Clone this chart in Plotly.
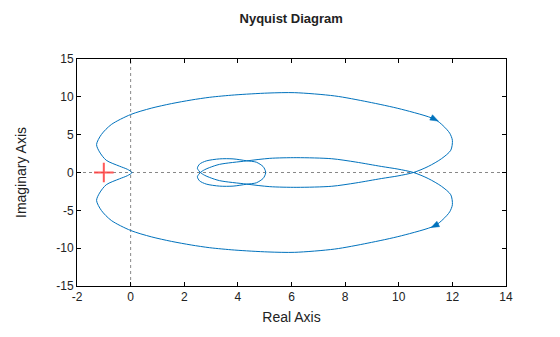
import math
import plotly.graph_objects as go

# Upper-half branch of the Nyquist curve:
# starts at the small loop tip on the real axis, ends at the origin cusp
re_upper = [5.04, 5.0, 4.94, 4.69, 4.32, 3.82, 3.32, 2.82, 2.57, 2.49, 2.55, 2.6,
            2.75, 2.95, 3.32, 4.32, 5.19, 6.2, 7.5, 8.4, 9.35, 9.97, 10.55,
            11.1, 11.6, 11.94, 12.0, 11.9, 11.65, 11.34, 10.1, 8.85, 7.61, 6.12,
            5.12, 3.88, 2.95, 2.26, 1.52, 0.77, 0.0, -0.72, -1.09, -1.27,
            -1.16, -0.91, -0.41, -0.12, 0.05]
im_upper = [0.0, 0.45, 0.79, 1.36, 1.55, 1.8, 1.8, 1.53, 1.1, 0.57, 0.2, 0.0,
            -0.35, -0.66, -1.08, -1.53, -1.87, -1.96, -1.82, -1.38, -0.8, -0.45, 0.0,
            0.8, 1.84, 2.94, 4.25, 5.2, 6.2, 7.04, 8.36, 9.33, 10.12, 10.55,
            10.5, 10.25, 9.94, 9.58, 9.1, 8.5, 7.66, 6.34, 5.02, 3.7,
            2.72, 1.62, 0.83, 0.42, 0.0]

# direction arrows on the curve: position and screen direction (degrees below +x)
arrow_re = [11.34, 11.34]
arrow_im = [7.04, -7.04]
arrow_dir = [27, 153]

crit_re = [-1]
crit_im = [0]

xticks = list(range(-2, 15, 2))
yticks = list(range(-15, 16, 5))

blue = "#0072BD"

# plot area geometry (pixels) used to size arrowheads
W, H = 560, 337
ML, MR, MT, MB = 77, 54, 59, 51
XR = [-2, 14]
YR = [-15, 15]
px_x = (W - ML - MR) / (XR[1] - XR[0])
px_y = (H - MT - MB) / (YR[1] - YR[0])

# closed curve: upper branch followed by its mirror image (conjugate branch)
re_full = list(re_upper) + list(reversed(re_upper))[1:]
im_full = list(im_upper) + [-v for v in reversed(im_upper)][1:]

fig = go.Figure()
fig.add_trace(go.Scatter(x=re_full, y=im_full, mode="lines",
                         line=dict(color=blue, width=1, shape="spline", smoothing=0.8),
                         hoverinfo="skip"))

# arrowheads as small filled triangles (sized in pixels, placed in data units)
L_fwd, L_back, half_w = 4.0, 4.0, 3.0
for xa, ya, d in zip(arrow_re, arrow_im, arrow_dir):
    r = math.radians(d)
    ux, uy = math.cos(r), math.sin(r)       # screen direction (y down)
    nx, ny = -uy, ux                        # perpendicular
    pts = [(L_fwd * ux, L_fwd * uy),
           (-L_back * ux + half_w * nx, -L_back * uy + half_w * ny),
           (-L_back * ux - half_w * nx, -L_back * uy - half_w * ny),
           (L_fwd * ux, L_fwd * uy)]
    tx = [xa + p[0] / px_x for p in pts]
    ty = [ya - p[1] / px_y for p in pts]
    fig.add_trace(go.Scatter(x=tx, y=ty, mode="lines", fill="toself",
                             fillcolor=blue, line=dict(color=blue, width=0.5),
                             hoverinfo="skip"))

fig.add_trace(go.Scatter(x=crit_re, y=crit_im, mode="markers",
                         marker=dict(symbol="cross-thin", size=14,
                                     line=dict(color="rgba(255,60,60,0.85)", width=2))))

axis_common = dict(showgrid=False, zeroline=False, showline=True, linecolor="black",
                   linewidth=1, mirror="ticks", ticks="inside", ticklen=4,
                   tickcolor="black", tickfont=dict(size=12, color="#222"))

fig.update_layout(
    width=W, height=H,
    margin=dict(l=ML, r=MR, t=MT, b=MB),
    paper_bgcolor="white", plot_bgcolor="white",
    font=dict(family="Liberation Sans, Arial, sans-serif", color="#222"),
    showlegend=False,
    title=dict(text="<b>Nyquist Diagram</b>", x=0.52, xanchor="center",
               y=0.945, yanchor="middle", font=dict(size=13, color="#222")),
    xaxis=dict(range=XR, tickvals=xticks, ticktext=[str(v) for v in xticks],
               **axis_common,
               title=dict(text="Real Axis", font=dict(size=14), standoff=8)),
    yaxis=dict(range=YR, tickvals=yticks, ticktext=[str(v) for v in yticks],
               **axis_common,
               title=dict(text="Imaginary Axis", font=dict(size=14), standoff=26)),
    shapes=[
        dict(type="line", xref="x", yref="paper", x0=0, x1=0, y0=0, y1=1,
             line=dict(color="#888", width=1, dash="dot"), layer="below"),
        dict(type="line", xref="paper", yref="y", x0=0, x1=1, y0=0, y1=0,
             line=dict(color="#888", width=1, dash="dot"), layer="below"),
    ],
)

fig.write_html("out.html")
